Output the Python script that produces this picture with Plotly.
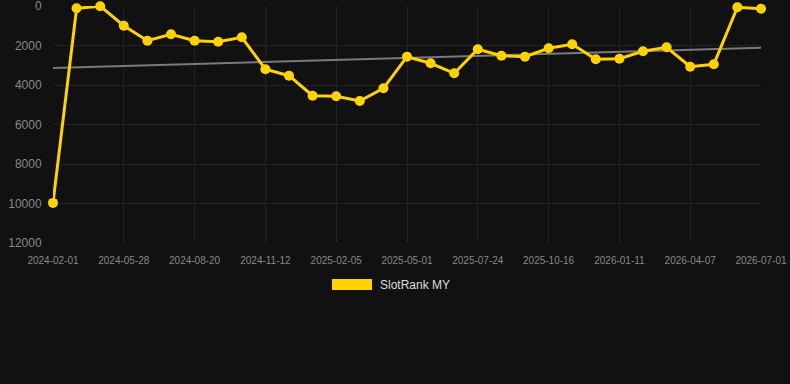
import plotly.graph_objects as go

dates = [
    "2024-02-01", "2024-03-10", "2024-04-19", "2024-05-28", "2024-06-25", "2024-07-23",
    "2024-08-20", "2024-09-17", "2024-10-15", "2024-11-12", "2024-12-10", "2025-01-08",
    "2025-02-05", "2025-03-05", "2025-04-02", "2025-05-01", "2025-05-29", "2025-06-26",
    "2025-07-24", "2025-08-21", "2025-09-18", "2025-10-16", "2025-11-14", "2025-12-13",
    "2026-01-11", "2026-02-08", "2026-03-09", "2026-04-07", "2026-05-05", "2026-06-02",
    "2026-07-01",
]
rank = [
    9970, 116, 10, 997, 1757, 1433, 1757, 1807, 1585, 3205, 3529, 4541, 4572, 4810,
    4167, 2567, 2901, 3407, 2192, 2516, 2567, 2142, 1939, 2699, 2668, 2294, 2091,
    3073, 2952, 66, 137,
]
trend_x = [dates[0], dates[-1]]
trend_y = [3140, 2110]
y_ticks = [0, 2000, 4000, 6000, 8000, 10000, 12000]
x_ticks = dates[::3]
series_name = "SlotRank MY"

GOLD = "#FFD200"

L, R, T, B = 53, 29, 6, 141
PW = 790 - L - R
PH = 384 - T - B

fig = go.Figure()
fig.add_trace(go.Scatter(
    x=trend_x, y=trend_y, mode="lines",
    line=dict(color="#7a7a7a", width=2), hoverinfo="skip", showlegend=False,
))
fig.add_trace(go.Scatter(
    x=dates, y=rank, mode="lines+markers", name=series_name,
    line=dict(color=GOLD, width=3), marker=dict(color=GOLD, size=10),
    showlegend=False, cliponaxis=False,
))

fig.update_layout(
    width=790, height=384,
    margin=dict(l=L, r=R, t=T, b=B, autoexpand=False),
    paper_bgcolor="#111111", plot_bgcolor="#111111",
    font=dict(family="Liberation Sans, Arial, sans-serif", color="#888888"),
    xaxis=dict(
        type="category", categoryorder="array", categoryarray=dates,
        range=[0, len(dates) - 1], tickmode="array", tickvals=x_ticks, ticktext=x_ticks,
        showgrid=True, gridcolor="#222222", gridwidth=1, zeroline=False,
        showline=False, tickfont=dict(size=10, color="#888888"),
        ticks="outside", ticklen=8, tickcolor="rgba(0,0,0,0)", automargin=False,
        ticklabeloverflow="allow",
    ),
    yaxis=dict(
        range=[12000, 0], tickmode="array", tickvals=y_ticks,
        ticktext=[str(v) for v in y_ticks],
        showgrid=True, gridcolor="#222222", gridwidth=1, zeroline=False,
        showline=False, tickfont=dict(size=12, color="#888888"),
        ticks="outside", ticklen=8, tickcolor="rgba(0,0,0,0)", automargin=False,
        ticklabeloverflow="allow",
    ),
    shapes=[dict(
        type="rect", xref="paper", yref="paper",
        x0=(332 - L) / PW, x1=(372 - L) / PW,
        y0=(384 - B - 290) / PH, y1=(384 - B - 279) / PH,
        fillcolor=GOLD, line=dict(width=0),
    )],
    annotations=[dict(
        xref="paper", yref="paper", x=(378 - L) / PW, y=(384 - B - 284.5) / PH,
        text=series_name, showarrow=False, xanchor="left", yanchor="middle",
        font=dict(size=12, color="#dddddd"),
    )],
)

fig.write_html("out.html")
